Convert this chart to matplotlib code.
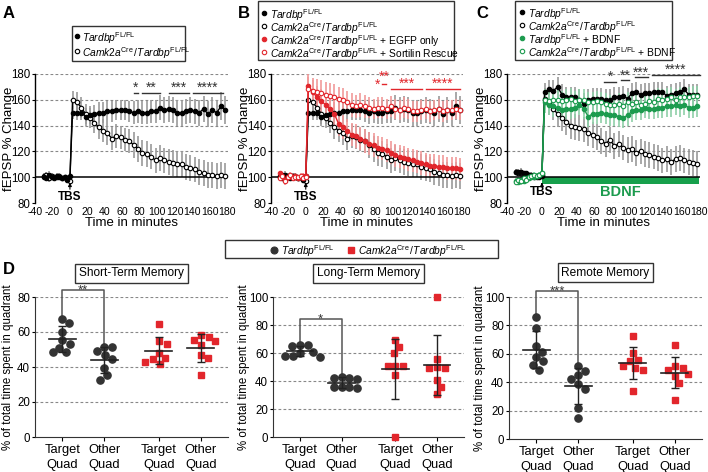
import numpy as np
import matplotlib
matplotlib.use('Agg')
import matplotlib.pyplot as plt
from matplotlib.lines import Line2D
from matplotlib.patches import Rectangle

plt.rcParams['font.family'] = ['Liberation Sans', 'DejaVu Sans']
plt.rcParams['mathtext.fontset'] = 'custom'
plt.rcParams['mathtext.rm'] = 'Liberation Sans'
plt.rcParams['mathtext.it'] = 'Liberation Sans:italic'
plt.rcParams['mathtext.bf'] = 'Liberation Sans:bold'
plt.rcParams['axes.unicode_minus'] = False

######################
#   DADOS (LTP)      #
######################
t_base = [-30, -27, -24, -21, -18, -15, -12, -9, -6, -3, 0]
t_post = [3, 8, 13, 18, 23, 28, 33, 38, 43, 48, 53, 58, 63, 68, 73, 78, 83, 88,
          93, 98, 103, 108, 113, 118, 123, 128, 133, 138, 143, 148, 153, 158, 163, 168, 173, 178]

# painel A / B - controles
fl_base = [100, 99, 102, 100, 99, 101, 100, 99, 100, 98, 101]
fl_post = [150, 150, 150, 147, 148, 149, 150, 150, 151, 151, 152, 152, 152, 151, 150, 151, 150, 150,
           151, 151, 154, 152, 153, 152, 150, 150, 151, 152, 151, 150, 153, 149, 152, 150, 155, 152]
fl_err = [5, 6, 6, 7, 7, 7, 8, 8, 8, 8, 8, 8, 8, 8, 9, 9, 9, 9,
          9, 9, 10, 10, 10, 10, 10, 10, 10, 10, 10, 10, 10, 10, 10, 10, 11, 11]
cre_base = [101, 102, 99, 101, 100, 100, 101, 99, 100, 99, 97]
cre_post = [160, 158, 154, 149, 146, 142, 139, 136, 134, 130, 132, 131, 129, 128, 125, 122, 119, 118,
            116, 113, 115, 113, 112, 111, 110, 110, 108, 107, 106, 104, 103, 102, 102, 101, 102, 101]
cre_err = [7, 8, 8, 8, 8, 8, 9, 9, 9, 9, 9, 9, 9, 9, 10, 10, 10, 10,
           10, 10, 10, 10, 10, 10, 10, 10, 10, 10, 10, 10, 10, 10, 10, 10, 10, 10]

# painel B - EGFP / Sortilin
egfp_base = [103, 100, 98, 100, 101, 100, 101, 99, 100, 101, 101]
egfp_post = [171, 166, 162, 159, 156, 153, 149, 141, 139, 136, 133, 132, 130, 128, 126, 125, 123, 122,
             121, 119, 117, 116, 115, 114, 113, 112, 111, 110, 109, 109, 108, 108, 107, 107, 107, 106]
egfp_err = [9, 9, 9, 9, 9, 9, 9, 9, 9, 9, 9, 9, 9, 9, 9, 9, 9, 9,
            9, 9, 9, 9, 9, 9, 9, 9, 9, 9, 9, 9, 9, 9, 9, 9, 9, 9]
sort_base = [99, 101, 97, 100, 102, 99, 100, 100, 101, 99, 100]
sort_post = [168, 167, 166, 165, 164, 163, 162, 161, 160, 158, 156, 155, 156, 155, 154, 153, 154, 154,
             153, 155, 153, 152, 154, 153, 151, 151, 152, 153, 151, 152, 153, 151, 152, 152, 153, 152]
sort_err = [10, 10, 10, 10, 10, 10, 10, 9, 9, 9, 9, 9, 9, 9, 8, 8, 8, 8,
            8, 8, 8, 8, 8, 8, 8, 8, 8, 8, 8, 8, 8, 8, 8, 8, 8, 8]

# painel C - BDNF
c_fl_base = [104, 104, 104, 103, 103, 102, 102, 101, 101, 100, 101]
c_fl_post = [166, 168, 167, 170, 164, 162, 162, 162, 160, 157, 160, 161, 161, 161, 160, 160, 162, 162,
             163, 161, 165, 166, 164, 165, 165, 166, 166, 166, 163, 164, 165, 166, 168, 164, 164, 164]
c_fl_err = [7, 7, 8, 8, 8, 8, 8, 8, 8, 8, 8, 8, 8, 8, 8, 8, 8, 8,
            8, 8, 8, 8, 8, 8, 8, 8, 8, 8, 8, 8, 8, 8, 8, 8, 8, 8]
c_cre_base = [104, 103, 103, 102, 102, 101, 101, 100, 100, 101, 102]
c_cre_post = [161, 157, 153, 149, 146, 143, 140, 139, 138, 137, 134, 133, 131, 128, 126, 129, 124, 126,
              123, 121, 122, 119, 120, 118, 117, 116, 115, 113, 114, 112, 114, 115, 113, 112, 111, 110]
c_cre_err = [8, 9, 9, 10, 10, 10, 10, 10, 10, 10, 10, 10, 10, 10, 10, 10, 10, 10,
             10, 10, 10, 10, 10, 10, 10, 10, 10, 10, 10, 10, 10, 10, 10, 10, 10, 10]
c_flb_base = [97, 96, 98, 97, 99, 99, 100, 100, 101, 102, 103]
c_flb_post = [158, 156, 155, 154, 152, 153, 153, 154, 156, 153, 147, 149, 149, 150, 149, 148, 148, 147,
              146, 148, 151, 152, 152, 154, 153, 153, 154, 154, 155, 155, 156, 155, 156, 154, 154, 155]
c_flb_err = [8, 8, 8, 8, 8, 8, 8, 8, 8, 8, 8, 8, 8, 8, 8, 8, 8, 8,
             8, 8, 8, 8, 8, 8, 8, 8, 8, 8, 8, 8, 8, 8, 8, 8, 8, 8]
c_creb_base = [96, 98, 97, 99, 98, 100, 101, 102, 101, 102, 103]
c_creb_post = [160, 159, 160, 160, 159, 160, 161, 159, 160, 160, 158, 158, 159, 158, 157, 156, 156, 157,
               155, 158, 157, 158, 156, 157, 159, 158, 161, 160, 161, 162, 160, 162, 162, 162, 163, 163]
c_creb_err = [8, 8, 8, 8, 8, 8, 8, 8, 8, 8, 8, 8, 8, 8, 8, 8, 8, 8,
              8, 8, 8, 8, 8, 8, 8, 8, 8, 8, 8, 8, 8, 8, 8, 8, 8, 8]
base_err = [2, 2, 3, 2, 2, 2, 2, 2, 2, 2, 2]

# barras de significancia (inicio, fim, texto)
sig_a = [(73, 78, '*'), (83, 103, '**'), (113, 136, '***'), (141, 175, '****')]
sig_b = [(98, 134, '***'), (138, 178, '****')]
sig_c = [(71, 85, '*'), (91, 100, '**'), (106, 121, '***'), (126, 181, '****')]

######################
#   DADOS (MWM)      #
######################
quad_labels = ['Target\nQuad', 'Other\nQuad', 'Target\nQuad', 'Other\nQuad']
short_fl_t = [67.3, 65.0, 60.2, 55.3, 53.4, 51.0, 48.3, 48.6]
short_fl_o = [49.2, 51.7, 51.7, 47.0, 44.8, 39.7, 32.7, 35.3]
short_cre_t = [64.8, 53.4, 54.9, 47.9, 44.4, 45.0, 41.6, 42.9]
short_cre_o = [58.5, 57.4, 55.5, 54.7, 52.4, 47.0, 45.0, 35.3]
long_fl_t = [65.4, 65.0, 66.0, 61.0, 60.0, 58.0, 57.5, 58.0]
long_fl_o = [42.5, 41.5, 43.0, 42.0, 36.0, 35.5, 35.0, 35.5]
long_cre_t = [69, 64, 60, 51, 51, 51, 44, 0]
long_cre_o = [100, 56, 50, 49, 49, 41, 36, 31]
rem_fl_t = [85.7, 78.5, 65.2, 61.2, 57.7, 55.1, 52.3, 48.4]
rem_fl_o = [51.6, 48.1, 45.3, 42.5, 39.0, 35.5, 22.0, 14.5]
rem_cre_t = [72.7, 60.5, 55.8, 54.7, 51.6, 50.0, 48.8, 33.6]
rem_cre_o = [66.4, 51.2, 50.0, 48.4, 44.6, 45.8, 39.5, 27.3]

RED = '#e2262c'
GREEN = '#1c9b4e'
lbl_fl = r'$\mathit{Tardbp}^{\mathrm{FL/FL}}$'
lbl_cre = r'$\mathit{Camk2a}^{\mathrm{Cre}}\,\mathit{/Tardbp}^{\mathrm{FL/FL}}$'
LEG_FS = 7.4

fig = plt.figure(figsize=(7.08, 4.72), dpi=100)
W, H = 708.0, 472.0


def fx(x):
    return x / W


def fy(y):
    return 1 - y / H


def px_axes(left, top, right, bottom):
    return fig.add_axes([fx(left), fy(bottom), (right - left) / W, (bottom - top) / H])


def ltp_axes(left, right):
    ax = px_axes(left, 74, right, 203)
    ax.set_xlim(-40, 181)
    ax.set_ylim(80, 180)
    for s in ['top', 'right', 'bottom']:
        ax.spines[s].set_visible(False)
    ax.spines['left'].set_linewidth(1)
    for g in [80, 120, 140, 160, 180]:
        ax.axhline(g, color='#888888', lw=0.8, ls=(0, (2.5, 2)), zorder=0)
    ax.axhline(100, color='black', lw=1.1, zorder=2)
    ax.set_xticks(range(-40, 181, 20))
    ax.set_yticks(range(80, 181, 20))
    ax.tick_params(axis='x', length=0, labelsize=7.6, pad=3)
    ax.tick_params(axis='y', length=2, labelsize=8.3, pad=1)
    ax.set_xlabel('Time in minutes', fontsize=9.5, labelpad=0)
    ax.set_ylabel('fEPSP % Change', fontsize=9.5)
    ax.yaxis.set_label_coords(-0.105, 0.5)
    ax.set_facecolor('none')
    return ax


def trace(ax, base, post, err, color, ecolor, filled):
    t = np.array(t_base + t_post)
    y = np.array(base + post)
    e = np.array(base_err + err)
    ax.vlines(t, y - e, y + e, color=ecolor, lw=1.2, zorder=1)
    ax.plot(t, y, color=color, lw=1, marker='o', ms=3.2,
            mfc=color if filled else 'white', mec=color, mew=0.8, zorder=3)


def sig(ax, bars, y_line, color, fs=10):
    for x0, x1, txt in bars:
        ax.plot([x0, x1], [y_line, y_line], color=color, lw=1, clip_on=False)
        ax.text((x0 + x1) / 2, y_line - 1.5, txt, color=color, ha='center', va='bottom',
                fontsize=fs, clip_on=False)


def tbs(ax, y_txt=85):
    ax.text(0, y_txt, 'TBS', ha='center', va='center', fontsize=8.5, weight='bold')
    ax.annotate('', xy=(0, 98), xytext=(0, y_txt + 3.5),
                arrowprops=dict(arrowstyle='-|>', lw=0.8, color='black', mutation_scale=5))


def box_legend(box, entries, mx, tx, fs=LEG_FS):
    # box = (esq, topo, dir, base) em pixels; entries = (y, cor, cheio, marcador, tamanho, texto)
    x0, y0, x1, y1 = box
    fig.add_artist(Rectangle((fx(x0), fy(y1)), (x1 - x0) / W, (y1 - y0) / H, fill=False,
                             ec='#333333', lw=1, transform=fig.transFigure))
    for y, color, filled, marker, ms, txt in entries:
        fig.add_artist(Line2D([fx(mx)], [fy(y)], transform=fig.transFigure, ls='none',
                              marker=marker, ms=ms, mec=color, mew=0.8,
                              mfc=color if filled else 'white'))
        fig.text(fx(tx), fy(y), txt, fontsize=fs, ha='left', va='center_baseline')


# ---------------- painel A
ax = ltp_axes(35, 228)
trace(ax, cre_base, cre_post, cre_err, 'black', '#9a9a9a', False)
trace(ax, fl_base, fl_post, fl_err, 'black', '#9a9a9a', True)
sig(ax, sig_a, 165.5, '#333333')
tbs(ax)
box_legend((72, 26, 185, 61),
           [(36, 'black', True, 'o', 3.2, lbl_fl), (51, 'black', False, 'o', 3.2, lbl_cre)], 77, 82)

# ---------------- painel B
ax = ltp_axes(271, 463)
trace(ax, cre_base, cre_post, cre_err, 'black', '#9a9a9a', False)
trace(ax, fl_base, fl_post, fl_err, 'black', '#9a9a9a', True)
trace(ax, egfp_base, egfp_post, egfp_err, RED, '#f19a9a', True)
trace(ax, sort_base, sort_post, sort_err, RED, '#f19a9a', False)
sig(ax, sig_b, 168.5, RED)
ax.text(83, 166, '*', color=RED, ha='center', va='bottom', fontsize=10)
ax.plot([88, 92], [172.5, 172.5], color=RED, lw=1)
ax.text(90, 172.5, '**', color=RED, ha='center', va='bottom', fontsize=10)
tbs(ax)
box_legend((258, 1, 454, 60),
           [(13, 'black', True, 'o', 3.2, lbl_fl), (26, 'black', False, 'o', 3.2, lbl_cre),
            (39, RED, True, 'o', 3.2, lbl_cre + ' + EGFP only'),
            (52, RED, False, 'o', 3.2, lbl_cre + ' + Sortilin Rescue')], 264, 270)

# ---------------- painel C
ax = ltp_axes(507, 700)
ax.add_patch(Rectangle((0, 94.5), 180, 5.5, color='#17a04c', zorder=1.5, lw=0))
ax.text(90, 88.5, 'BDNF', color=GREEN, ha='center', va='center', fontsize=10.5, weight='bold')
trace(ax, c_cre_base, c_cre_post, c_cre_err, 'black', '#9a9a9a', False)
trace(ax, c_fl_base, c_fl_post, c_fl_err, 'black', '#9a9a9a', True)
trace(ax, c_flb_base, c_flb_post, c_flb_err, GREEN, '#8fd0a8', True)
trace(ax, c_creb_base, c_creb_post, c_creb_err, GREEN, '#8fd0a8', False)
for (x0, x1, txt), yl in zip(sig_c, [174, 175, 177.4, 179.2]):
    ax.plot([x0, x1], [yl, yl], color='#333333', lw=1, clip_on=False)
    ax.text((x0 + x1) / 2, yl - 1.5, txt, color='#333333', ha='center', va='bottom',
            fontsize=10, clip_on=False)
tbs(ax, 88.5)
box_legend((515, 1, 672, 60),
           [(12, 'black', True, 'o', 3.2, lbl_fl), (25, 'black', False, 'o', 3.2, lbl_cre),
            (38, GREEN, True, 'o', 3.2, lbl_fl + ' + BDNF'),
            (51, GREEN, False, 'o', 3.2, lbl_cre + ' + BDNF')], 522, 528)


# ---------------- painel D
def swarm(vals, xc, yscale, xscale=42.0, diam=8.0):
    placed = []
    xs = np.zeros(len(vals))
    for i in np.argsort(vals)[::-1]:
        y = vals[i] * yscale
        off = 0.0
        for k in range(300):
            found = False
            for sgn in (1, -1):
                off = sgn * k * 0.5
                if all((off - px) ** 2 + (y - py) ** 2 >= diam ** 2 for px, py in placed):
                    found = True
                    break
            if found:
                break
        placed.append((off, y))
        xs[i] = xc + off / xscale
    return xs


positions = [1, 2, 3.3, 4.3]


def mwm_axes(left, right, bottom, ymax, title, groups, bracket_y, star, lab_x):
    ax = px_axes(left, 297, right, bottom)
    ax.set_xlim(0.35, 4.95)
    ax.set_ylim(0, ymax)
    for s in ['top', 'right']:
        ax.spines[s].set_visible(False)
    ax.spines['left'].set_color('#333333')
    ax.spines['bottom'].set_color('#333333')
    yt = list(range(0, ymax + 1, 20))
    for g in yt[1:]:
        ax.axhline(g, color='#888888', lw=0.8, ls=(0, (2.5, 2)), zorder=0)
    ax.set_yticks(yt)
    ax.set_xticks(positions)
    ax.set_xticklabels(quad_labels, fontsize=9.3, linespacing=1.35)
    ax.tick_params(axis='y', length=2.5, labelsize=8.3, pad=1)
    ax.tick_params(axis='x', length=3, pad=2)
    ax.set_ylabel('% of total time spent in quadrant', fontsize=8.3)
    ax.yaxis.set_label_coords(lab_x, 0.5)
    yscale = 140.0 / ymax
    for i, vals in enumerate(groups):
        vals = np.array(vals, dtype=float)
        x = positions[i]
        if i < 2:
            xs = swarm(vals, x, yscale)
            ax.plot(xs, vals, ls='none', marker='o', ms=5.2, color='#333333', zorder=3, clip_on=False)
        else:
            xs = swarm(vals, x, yscale, diam=8.0)
            ax.plot(xs, vals, ls='none', marker='s', ms=4.6, color=RED, zorder=3, clip_on=False)
        m = vals.mean()
        sd = vals.std(ddof=1)
        ax.plot([x - 0.32, x + 0.32], [m, m], color='#222222', lw=1.2, zorder=4)
        ax.errorbar(x, m, yerr=sd, color='#222222', lw=1, capsize=3, capthick=1, zorder=4)
    # colchete de significancia
    y0 = max(groups[0]) + 1
    y1 = max(groups[1]) + 1
    ax.plot([1, 1, 2, 2], [y0, bracket_y, bracket_y, y1], color='#555555', lw=1.1,
            clip_on=False, zorder=2)
    ax.annotate(star, xy=(1.5, bracket_y), xytext=(0, -2.5), textcoords='offset points',
                ha='center', va='baseline', fontsize=9.5, color='#333333', annotation_clip=False)
    ax.text(0.5, 1.17, title, transform=ax.transAxes, ha='center', va='center', fontsize=8.6,
            bbox=dict(boxstyle='square,pad=0.3', fc='white', ec='#333333', lw=1))
    return ax


mwm_axes(35, 228, 437, 80, 'Short-Term Memory',
         [short_fl_t, short_fl_o, short_cre_t, short_cre_o], 84, '**', -0.11)
mwm_axes(273, 464, 437, 100, 'Long-Term Memory',
         [long_fl_t, long_fl_o, long_cre_t, long_cre_o], 84.5, '*', -0.12)
mwm_axes(509, 702, 439, 100, 'Remote Memory',
         [rem_fl_t, rem_fl_o, rem_cre_t, rem_cre_o], 104, '***', -0.12)

box_legend((225, 240, 498, 258),
           [(249.5, '#333333', True, 'o', 5, lbl_fl)], 274, 281, fs=LEG_FS)
fig.add_artist(Line2D([fx(351)], [fy(249.5)], transform=fig.transFigure, ls='none',
                      marker='s', ms=4.6, color=RED))
fig.text(fx(358), fy(249.5), lbl_cre, fontsize=LEG_FS, ha='left', va='center_baseline')

for txt, x, y in [('A', 3, 14), ('B', 238, 14), ('C', 476, 14), ('D', 3, 270)]:
    fig.text(fx(x), fy(y), txt, fontsize=12, weight='bold', va='center', ha='left')

fig.savefig('out.png', dpi=100)
